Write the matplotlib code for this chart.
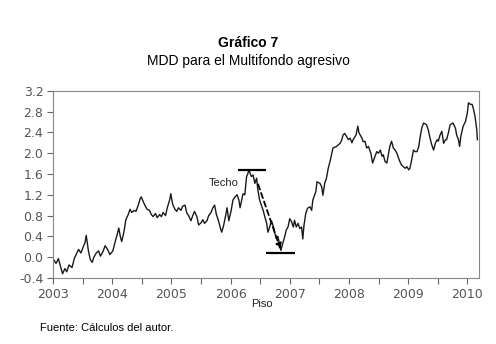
import matplotlib
matplotlib.use("Agg")
import matplotlib.pyplot as plt
import numpy as np

plt.rcParams['axes.unicode_minus'] = False

# fecha (fraccion de año) y MDD
years = [2003.01, 2003.05, 2003.09, 2003.13, 2003.16, 2003.20, 2003.23, 2003.27, 2003.32, 2003.36,
         2003.39, 2003.43, 2003.47, 2003.51, 2003.54, 2003.56, 2003.60, 2003.63, 2003.66, 2003.69,
         2003.73, 2003.77, 2003.80, 2003.84, 2003.88, 2003.92, 2003.96, 2004.01, 2004.05, 2004.08,
         2004.11, 2004.14, 2004.16, 2004.20, 2004.23, 2004.27, 2004.30, 2004.33, 2004.37, 2004.40,
         2004.44, 2004.47, 2004.49, 2004.53, 2004.56, 2004.59, 2004.63, 2004.66, 2004.69, 2004.73,
         2004.76, 2004.80, 2004.83, 2004.86, 2004.90, 2004.93, 2004.97, 2004.99, 2005.02, 2005.06,
         2005.09, 2005.12, 2005.16, 2005.19, 2005.23, 2005.26, 2005.29, 2005.33, 2005.36, 2005.39,
         2005.43, 2005.46, 2005.50, 2005.53, 2005.56, 2005.60, 2005.63, 2005.67, 2005.70, 2005.73,
         2005.76, 2005.79, 2005.83, 2005.85, 2005.88, 2005.92, 2005.94, 2005.97, 2006.01, 2006.04,
         2006.07, 2006.11, 2006.14, 2006.16, 2006.21, 2006.24, 2006.27, 2006.29, 2006.31, 2006.35,
         2006.38, 2006.41, 2006.44, 2006.46, 2006.49, 2006.52, 2006.55, 2006.58, 2006.61, 2006.63,
         2006.66, 2006.69, 2006.72, 2006.75, 2006.77, 2006.80, 2006.83, 2006.85, 2006.88, 2006.92,
         2006.94, 2006.97, 2007.00, 2007.03, 2007.06, 2007.08, 2007.11, 2007.14, 2007.17, 2007.20,
         2007.22, 2007.24, 2007.27, 2007.30, 2007.34, 2007.37, 2007.39, 2007.44, 2007.46, 2007.51,
         2007.54, 2007.56, 2007.59, 2007.62, 2007.65, 2007.68, 2007.71, 2007.73, 2007.79, 2007.85,
         2007.88, 2007.90, 2007.93, 2007.96, 2007.99, 2008.02, 2008.05, 2008.07, 2008.12, 2008.15,
         2008.17, 2008.22, 2008.24, 2008.27, 2008.30, 2008.33, 2008.37, 2008.40, 2008.44, 2008.47,
         2008.50, 2008.53, 2008.56, 2008.58, 2008.61, 2008.64, 2008.67, 2008.69, 2008.72, 2008.75,
         2008.78, 2008.81, 2008.84, 2008.86, 2008.89, 2008.92, 2008.95, 2008.98, 2009.01, 2009.03,
         2009.06, 2009.09, 2009.12, 2009.15, 2009.18, 2009.20, 2009.23, 2009.26, 2009.31, 2009.34,
         2009.37, 2009.40, 2009.43, 2009.46, 2009.49, 2009.51, 2009.54, 2009.57, 2009.60, 2009.63,
         2009.65, 2009.68, 2009.71, 2009.76, 2009.80, 2009.82, 2009.85, 2009.87, 2009.89, 2009.93,
         2009.97, 2010.00, 2010.02, 2010.05, 2010.08, 2010.10, 2010.13, 2010.16, 2010.17]
mdd = [-0.05, -0.12, -0.03, -0.20, -0.32, -0.22, -0.28, -0.15, -0.20, -0.02,
       0.05, 0.15, 0.08, 0.20, 0.28, 0.42, 0.10, -0.05, -0.10, 0.00,
       0.08, 0.12, 0.02, 0.10, 0.22, 0.15, 0.05, 0.12, 0.30, 0.42,
       0.56, 0.38, 0.30, 0.50, 0.72, 0.82, 0.92, 0.86, 0.90, 0.88,
       1.00, 1.12, 1.16, 1.05, 0.98, 0.92, 0.90, 0.82, 0.78, 0.84,
       0.76, 0.82, 0.78, 0.86, 0.80, 0.95, 1.10, 1.22, 1.02, 0.92,
       0.88, 0.95, 0.90, 0.98, 1.00, 0.85, 0.80, 0.70, 0.80, 0.88,
       0.78, 0.62, 0.66, 0.72, 0.65, 0.70, 0.80, 0.86, 0.95, 1.00,
       0.82, 0.72, 0.55, 0.48, 0.60, 0.82, 0.95, 0.70, 0.90, 1.10,
       1.15, 1.20, 1.10, 0.95, 1.22, 1.20, 1.55, 1.60, 1.68, 1.55,
       1.58, 1.42, 1.52, 1.30, 1.10, 1.00, 0.90, 0.77, 0.65, 0.48,
       0.58, 0.70, 0.60, 0.45, 0.36, 0.40, 0.23, 0.13, 0.26, 0.42,
       0.52, 0.58, 0.74, 0.68, 0.58, 0.71, 0.58, 0.65, 0.55, 0.58,
       0.35, 0.61, 0.84, 0.94, 0.97, 0.90, 1.10, 1.26, 1.45, 1.42,
       1.35, 1.19, 1.42, 1.52, 1.71, 1.84, 2.00, 2.10, 2.13, 2.19,
       2.26, 2.35, 2.38, 2.32, 2.26, 2.29, 2.20, 2.26, 2.35, 2.52,
       2.39, 2.29, 2.22, 2.23, 2.10, 2.13, 2.00, 1.81, 1.94, 2.03,
       2.00, 2.06, 1.94, 1.97, 1.84, 1.81, 2.00, 2.13, 2.23, 2.10,
       2.06, 2.00, 1.90, 1.84, 1.77, 1.74, 1.71, 1.74, 1.68, 1.71,
       1.87, 2.06, 2.03, 2.03, 2.13, 2.29, 2.48, 2.58, 2.55, 2.45,
       2.29, 2.16, 2.06, 2.19, 2.26, 2.23, 2.35, 2.42, 2.19, 2.26,
       2.26, 2.39, 2.55, 2.58, 2.48, 2.35, 2.26, 2.13, 2.32, 2.52,
       2.61, 2.77, 2.97, 2.94, 2.94, 2.87, 2.71, 2.45, 2.26]

year_labels = ['2003', '2004', '2005', '2006', '2007', '2008', '2009', '2010']
y_ticks = [-0.4, 0.0, 0.4, 0.8, 1.2, 1.6, 2.0, 2.4, 2.8, 3.2]

# techo y piso del drawdown
techo = 1.68
piso = 0.08

fig = plt.figure(figsize=(4.96, 3.44), dpi=100)
ax = fig.add_axes([0.107, 0.192, 0.859, 0.544])

ax.plot(years, mdd, color='#1a1a1a', linewidth=1.0)

ax.set_xlim(2003.0, 2010.2)
ax.set_ylim(-0.4, 3.2)
ax.set_yticks(y_ticks)
ax.set_yticklabels(['%.1f' % v for v in y_ticks])
ax.set_xticks(np.arange(2003, 2011))
ax.set_xticklabels(year_labels)
ax.set_xticks(np.arange(2003.5, 2010.2, 1.0), minor=True)
ax.tick_params(axis='both', which='both', direction='out', length=4, width=0.8,
               color='#666666', labelcolor='#555555', labelsize=9, pad=3)
for s in ax.spines.values():
    s.set_color('#888888')
    s.set_linewidth(0.8)

# marcas de techo y piso
ax.hlines(techo, 2006.13, 2006.60, color='black', linewidth=1.6)
ax.hlines(piso, 2006.60, 2007.08, color='black', linewidth=1.6)
ax.annotate('', xy=(2006.86, piso + 0.02), xytext=(2006.45, 1.45),
            arrowprops=dict(arrowstyle='-|>', color='black', lw=1.3,
                            linestyle=(0, (3, 2)), mutation_scale=8))
ax.text(2006.13, 1.42, 'Techo', fontsize=8, family='Liberation Sans',
        color='#222222', ha='right', va='center')
fig.text(262 / 496, 1 - 304 / 344, 'Piso', fontsize=8, family='Liberation Sans',
         color='#222222', ha='center', va='center')

fig.text(0.5, 1 - 43 / 344, 'Gráfico 7', fontsize=10, fontweight='bold',
         family='Liberation Sans', ha='center', va='center')
fig.text(0.5, 1 - 61 / 344, 'MDD para el Multifondo agresivo', fontsize=10,
         family='Liberation Sans', ha='center', va='center')
fig.text(40 / 496, 1 - 328 / 344, 'Fuente: Cálculos del autor.', fontsize=8,
         family='Liberation Sans', ha='left', va='center')

fig.savefig('out.png', dpi=100)
